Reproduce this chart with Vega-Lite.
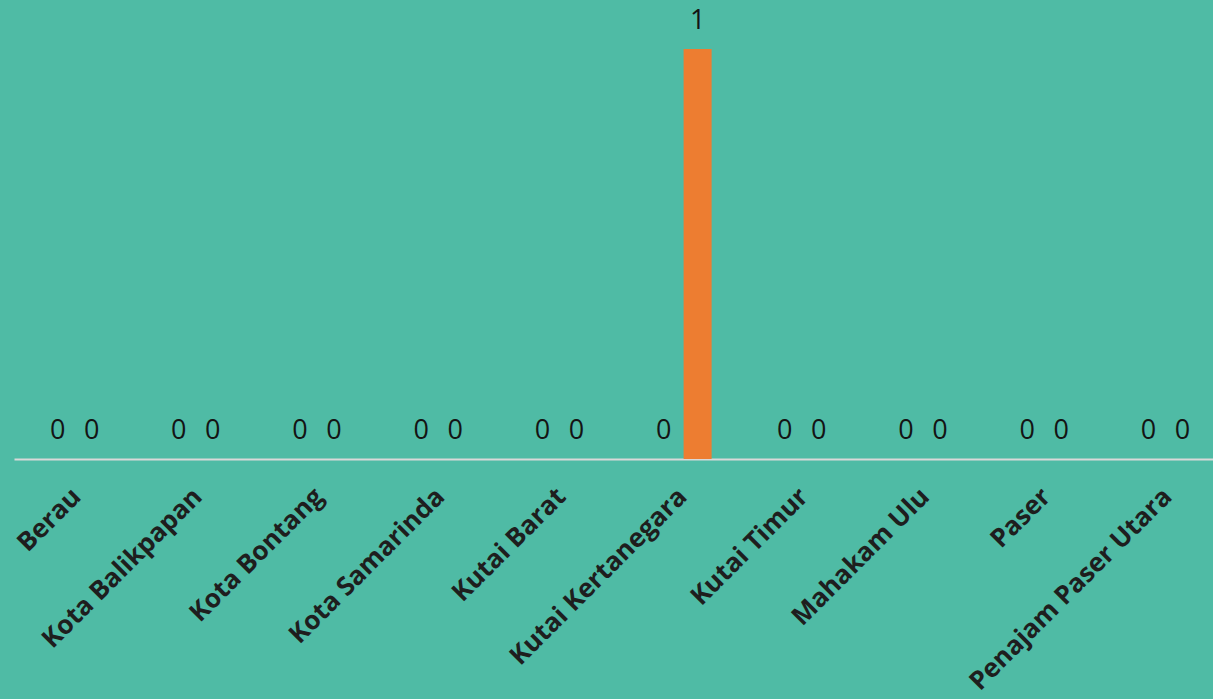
{
  "$schema": "https://vega.github.io/schema/vega-lite/v6.json",
  "autosize": "none",
  "width": 1199,
  "height": 410,
  "padding": {"left": 14, "top": 49, "right": 0, "bottom": 240},
  "background": "#4fbba5",
  "config": {"view": {"stroke": null}, "font": "Open Sans"},
  "data": {"values": [
    {"region": "Berau", "series": "Seri 1", "value": 0},
    {"region": "Berau", "series": "Seri 2", "value": 0},
    {"region": "Kota Balikpapan", "series": "Seri 1", "value": 0},
    {"region": "Kota Balikpapan", "series": "Seri 2", "value": 0},
    {"region": "Kota Bontang", "series": "Seri 1", "value": 0},
    {"region": "Kota Bontang", "series": "Seri 2", "value": 0},
    {"region": "Kota Samarinda", "series": "Seri 1", "value": 0},
    {"region": "Kota Samarinda", "series": "Seri 2", "value": 0},
    {"region": "Kutai Barat", "series": "Seri 1", "value": 0},
    {"region": "Kutai Barat", "series": "Seri 2", "value": 0},
    {"region": "Kutai Kertanegara", "series": "Seri 1", "value": 0},
    {"region": "Kutai Kertanegara", "series": "Seri 2", "value": 1},
    {"region": "Kutai Timur", "series": "Seri 1", "value": 0},
    {"region": "Kutai Timur", "series": "Seri 2", "value": 0},
    {"region": "Mahakam Ulu", "series": "Seri 1", "value": 0},
    {"region": "Mahakam Ulu", "series": "Seri 2", "value": 0},
    {"region": "Paser", "series": "Seri 1", "value": 0},
    {"region": "Paser", "series": "Seri 2", "value": 0},
    {"region": "Penajam Paser Utara", "series": "Seri 1", "value": 0},
    {"region": "Penajam Paser Utara", "series": "Seri 2", "value": 0}
  ]},
  "encoding": {
    "x": {
      "field": "region", "type": "nominal", "sort": null,
      "scale": {"range": [0, 1212], "paddingInner": 0.45, "paddingOuter": 0.225},
      "axis": {
        "title": null, "labelAngle": -45, "labelFontSize": 26, "labelFontWeight": "bold",
        "labelColor": "#1e1e1e", "labelFont": "Open Sans", "labelPadding": 24, "labelOffset": -7,
        "ticks": false, "domainColor": "#d9d9d9", "domainWidth": 2, "labelOverlap": false, "labelLimit": 400
      }
    },
    "xOffset": {"field": "series", "type": "nominal", "scale": {"paddingInner": 0.176, "paddingOuter": 0.068}},
    "y": {"field": "value", "type": "quantitative", "scale": {"domain": [0, 1]}, "axis": null}
  },
  "layer": [
    {
      "mark": {"type": "bar"},
      "encoding": {
        "color": {"field": "series", "type": "nominal", "scale": {"range": ["#4472c4", "#ed7d31"]}, "legend": null}
      }
    },
    {
      "mark": {"type": "text", "baseline": "alphabetic", "dy": -20, "fontSize": 27, "color": "#141414", "font": "Open Sans"},
      "encoding": {"text": {"field": "value", "type": "quantitative"}}
    }
  ]
}
